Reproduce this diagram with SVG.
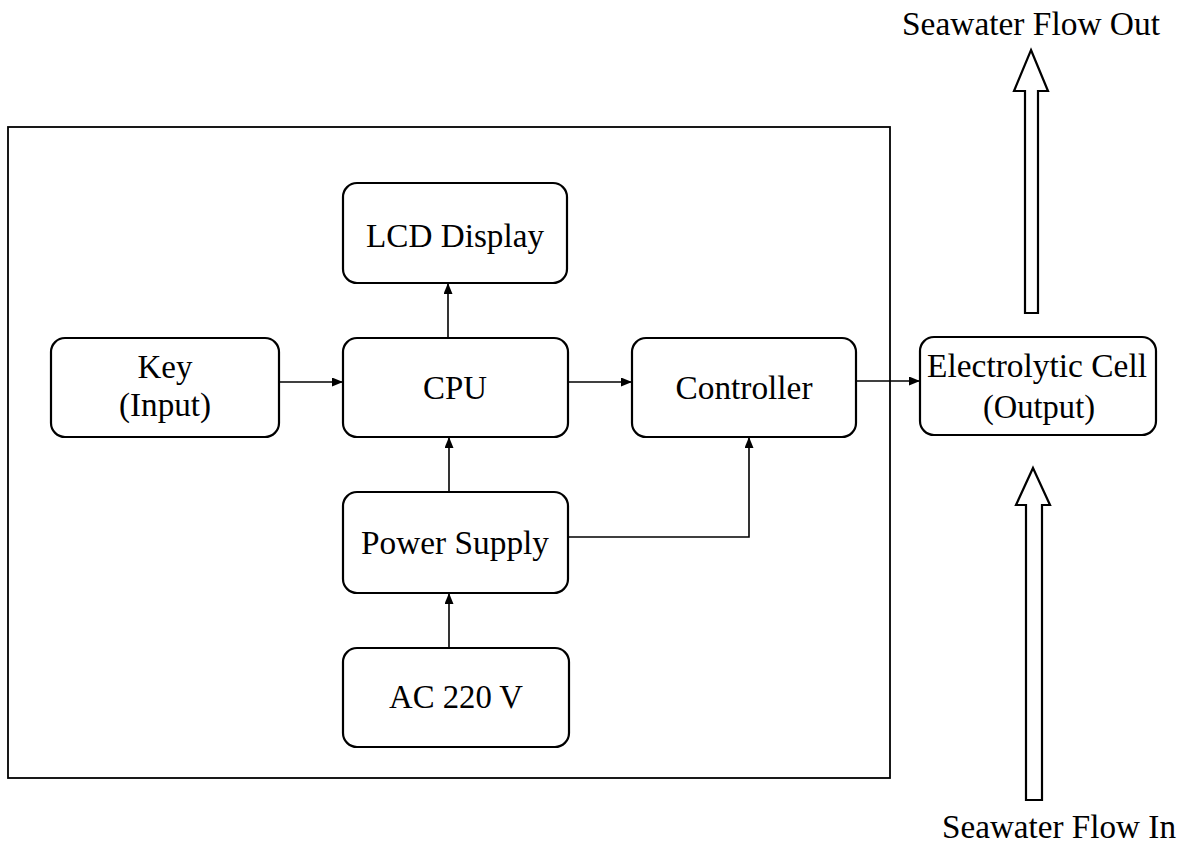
<svg xmlns="http://www.w3.org/2000/svg" width="1192" height="849" viewBox="0 0 1192 849">
<style>
.box{fill:#fff;stroke:#000;stroke-width:2.2}
.frame{fill:none;stroke:#000;stroke-width:1.8}
.t{font-family:"Liberation Serif","Times New Roman","DejaVu Serif",serif;font-size:33px;fill:#000;text-anchor:middle}
.c{fill:none;stroke:#000;stroke-width:1.6}
.hollow{fill:#fff;stroke:#000;stroke-width:2.2;stroke-linejoin:miter}
</style>
<defs>
<marker id="ah" markerWidth="11" markerHeight="9" refX="11" refY="4.5" orient="auto" markerUnits="userSpaceOnUse">
<path d="M0,0 L11,4.5 L0,9 Z" fill="#000"/>
</marker>
</defs>
<rect class="frame" x="8" y="127" width="882" height="651"/>
<g id="connectors">
<line class="c" x1="279" y1="382" x2="343" y2="382" marker-end="url(#ah)"/>
<line class="c" x1="568" y1="382" x2="632" y2="382" marker-end="url(#ah)"/>
<line class="c" x1="856" y1="381" x2="920" y2="381" marker-end="url(#ah)"/>
<line class="c" x1="448" y1="338" x2="448" y2="283" marker-end="url(#ah)"/>
<line class="c" x1="449" y1="492" x2="449" y2="437" marker-end="url(#ah)"/>
<polyline class="c" points="568,537 749,537 749,437" marker-end="url(#ah)"/>
<line class="c" x1="449" y1="648" x2="449" y2="593" marker-end="url(#ah)"/>
</g>
<g id="lcd"><rect class="box" x="343" y="183" width="224" height="100" rx="14"/><text class="t" x="455" y="247" textLength="178" lengthAdjust="spacingAndGlyphs">LCD Display</text></g>
<g id="key"><rect class="box" x="51" y="338" width="228" height="99" rx="14"/><text class="t" x="165" y="378" textLength="55" lengthAdjust="spacingAndGlyphs">Key</text><text class="t" x="165" y="416" textLength="92" lengthAdjust="spacingAndGlyphs">(Input)</text></g>
<g id="cpu"><rect class="box" x="343" y="338" width="225" height="99" rx="14"/><text class="t" x="455" y="399" textLength="64" lengthAdjust="spacingAndGlyphs">CPU</text></g>
<g id="controller"><rect class="box" x="632" y="338" width="224" height="99" rx="14"/><text class="t" x="744" y="399" textLength="137" lengthAdjust="spacingAndGlyphs">Controller</text></g>
<g id="cell"><rect class="box" x="920" y="337" width="236" height="98" rx="14"/><text class="t" x="1037" y="377" textLength="220" lengthAdjust="spacingAndGlyphs">Electrolytic Cell</text><text class="t" x="1039" y="418" textLength="112" lengthAdjust="spacingAndGlyphs">(Output)</text></g>
<g id="power"><rect class="box" x="343" y="492" width="225" height="101" rx="14"/><text class="t" x="455" y="554" textLength="188" lengthAdjust="spacingAndGlyphs">Power Supply</text></g>
<g id="ac"><rect class="box" x="343" y="648" width="226" height="99" rx="14"/><text class="t" x="456" y="708" textLength="134" lengthAdjust="spacingAndGlyphs">AC 220 V</text></g>
<g id="flow-out">
<path class="hollow" d="M1031,50 L1048,91 L1038,91 L1038,313 L1025,313 L1025,91 L1014,91 Z"/>
<text class="t" x="1031" y="35" textLength="258" lengthAdjust="spacingAndGlyphs">Seawater Flow Out</text>
</g>
<g id="flow-in">
<path class="hollow" d="M1033,468 L1050,505 L1042,505 L1042,800 L1026,800 L1026,505 L1016,505 Z"/>
<text class="t" x="1059" y="838" textLength="234" lengthAdjust="spacingAndGlyphs">Seawater Flow In</text>
</g>
</svg>
